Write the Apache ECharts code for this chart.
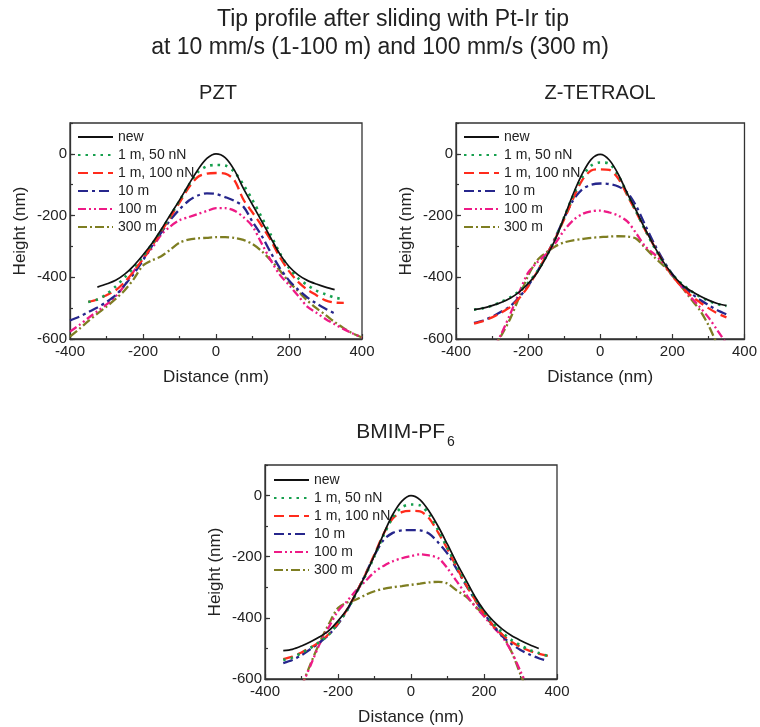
<!DOCTYPE html>
<html>
<head>
<meta charset="utf-8">
<script src="https://cdn.jsdelivr.net/npm/echarts@6/dist/echarts.min.js"></script>
<style>html,body{margin:0;padding:0;background:#fff;}#c{width:760px;height:727px;}</style>
</head>
<body>
<div id="c"></div>
<script>
var n = null;
// shared x positions (nm)
var distance = [-400,-375,-350,-325,-300,-275,-250,-225,-200,-175,-150,-125,-100,-75,-50,-25,0,25,50,75,100,125,150,175,200,225,250,275,300,325,350,375,400];
var seriesNames = ['new', '1 m, 50 nN', '1 m, 100 nN', '10 m', '100 m', '300 m'];
var xTicks = [-400, -200, 0, 200, 400];
var yTicks = [-600, -400, -200, 0];

// PZT
var pztNew  = [n,n,n,-432,-422,-410,-390,-362,-328,-290,-245,-197,-150,-100,-52,-15,0,-12,-52,-112,-165,-218,-272,-325,-365,-392,-410,-422,-432,-440,n,n,n];
var pzt50nN = [n,n,-480,-472,-455,-430,-400,-368,-332,-292,-248,-200,-152,-102,-60,-40,-36,-38,-58,-100,-150,-205,-262,-322,-370,-403,-425,-443,-455,-466,-470,n,n];
var pzt100nN= [n,n,-480,-472,-458,-442,-415,-380,-340,-298,-252,-205,-158,-110,-75,-64,-62,-64,-85,-148,-190,-233,-280,-335,-380,-415,-440,-458,-475,-482,-483,n,n];
var pzt10m  = [-540,-528,-513,-498,-480,-458,-425,-388,-345,-298,-255,-214,-180,-152,-135,-128,-130,-140,-152,-171,-220,-265,-320,-370,-410,-440,-465,-485,-502,-517,n,n,n];
var pzt100m = [-576,-555,-532,-510,-488,-462,-425,-380,-340,-305,-262,-235,-215,-205,-195,-185,-176,-176,-184,-205,-235,-290,-345,-392,-425,-460,-495,-515,-535,-552,-568,-582,-595];
var pzt300m = [-592,-568,-542,-518,-495,-470,-442,-405,-362,-345,-332,-310,-288,-278,-274,-272,-270,-270,-272,-279,-292,-315,-345,-378,-415,-445,-475,-500,-522,-545,-565,-582,-595];

// Z-TETRAOL
var zNew    = [n,n,-505,-500,-492,-482,-468,-448,-420,-385,-335,-278,-205,-130,-65,-18,-2,-20,-66,-128,-185,-245,-300,-350,-390,-422,-443,-460,-474,-485,-492,n,n];
var z50nN   = [n,n,-505,-500,-492,-480,-465,-445,-418,-382,-333,-276,-205,-135,-75,-38,-28,-32,-70,-130,-188,-248,-303,-352,-390,-420,-443,-462,-476,-487,-493,n,n];
var z100nN  = [n,n,-550,-542,-530,-515,-497,-468,-430,-382,-330,-275,-212,-145,-85,-54,-50,-52,-80,-135,-190,-248,-300,-352,-395,-430,-458,-480,-500,-517,-530,n,n];
var z10m    = [n,n,-548,-540,-528,-512,-494,-465,-428,-382,-330,-272,-208,-150,-115,-100,-96,-98,-106,-125,-170,-232,-292,-345,-390,-425,-450,-472,-490,-507,-520,n,n];
var z100m   = [n,n,n,n,-640,-585,-520,-450,-385,-352,-325,-290,-248,-215,-195,-186,-184,-190,-200,-219,-258,-300,-325,-355,-395,-430,-463,-495,-530,-572,-615,n,n];
var z300m   = [n,n,n,n,-640,-590,-535,-465,-395,-345,-320,-300,-287,-280,-276,-272,-270,-268,-267,-268,-275,-305,-335,-362,-395,-430,-468,-505,-555,-620,n,n,n];

// BMIM-PF6
var bNew    = [n,n,-507,-503,-492,-478,-462,-442,-410,-372,-318,-260,-195,-125,-62,-18,0,-14,-52,-102,-160,-220,-275,-330,-375,-410,-437,-458,-474,-488,-500,n,n];
var b50nN   = [n,n,-538,-530,-515,-498,-478,-455,-418,-375,-320,-262,-198,-130,-72,-38,-29,-32,-62,-115,-172,-230,-282,-335,-380,-418,-448,-472,-490,-505,-515,-525,n];
var b100nN  = [n,n,-535,-527,-513,-497,-478,-453,-418,-372,-318,-258,-192,-125,-75,-54,-50,-52,-75,-122,-175,-235,-290,-340,-385,-425,-455,-478,-495,-508,-517,-524,n];
var b10m    = [n,n,-548,-538,-522,-502,-480,-455,-420,-375,-318,-258,-195,-145,-122,-114,-113,-114,-125,-154,-190,-240,-292,-340,-385,-425,-460,-485,-505,-520,-532,-541,n];
var b100m   = [n,n,n,n,-625,-555,-485,-430,-378,-345,-310,-280,-250,-230,-215,-205,-198,-192,-196,-205,-238,-280,-322,-362,-395,-430,-462,-510,-575,-640,n,n,n];
var b300m   = [n,n,n,n,-625,-550,-480,-420,-368,-350,-340,-325,-313,-305,-300,-296,-292,-288,-284,-282,-288,-310,-330,-360,-392,-425,-455,-510,-585,-660,n,n,n];

var panels = [
  [pztNew, pzt50nN, pzt100nN, pzt10m, pzt100m, pzt300m],
  [zNew, z50nN, z100nN, z10m, z100m, z300m],
  [bNew, b50nN, b100nN, b10m, b100m, b300m]
];

var FONT = '"Liberation Sans", Arial, Helvetica, sans-serif';
var TXT = '#222';
var colors = ['#111111', '#17a04e', '#ff2b1c', '#26268c', '#ee1a86', '#7e7e22'];
var dashes = ['solid', [2.5, 5], [10, 5], [10, 4, 3, 4], [8, 3, 2, 3, 2, 3], [9, 3, 2, 3]];
var widths = [1.7, 2.6, 2.3, 2.3, 2.3, 2.3];

var grids = [
  {left: 70, top: 123, width: 292, height: 216},
  {left: 456, top: 123, width: 292, height: 216},
  {left: 265, top: 465, width: 292, height: 215}
];
var legendPos = [{left: 77, top: 130}, {left: 463, top: 130}, {left: 273, top: 473}];

var xAxes = [], yAxes = [], series = [], legends = [], gridOpts = [];
grids.forEach(function (g, gi) {
  gridOpts.push({left: g.left, top: g.top, width: g.width, height: g.height, show: true,
    borderColor: '#333', borderWidth: 1.3, backgroundColor: 'transparent'});
  xAxes.push({
    type: 'value', gridIndex: gi, min: xTicks[0], max: xTicks[xTicks.length - 1], interval: xTicks[1] - xTicks[0],
    axisLine: {show: true, onZero: false, lineStyle: {color: '#333', width: 1.3}},
    axisTick: {show: true, inside: true, length: 5, lineStyle: {color: '#333', width: 1.2}},
    minorTick: {show: true, splitNumber: 2, length: 3, lineStyle: {color: '#333', width: 1.2}},
    splitLine: {show: false},
    axisLabel: {fontSize: 15, fontFamily: FONT, color: TXT, margin: 5},
    name: 'Distance (nm)', nameLocation: 'middle', nameGap: 30,
    nameTextStyle: {fontSize: 17, fontFamily: FONT, color: TXT}
  });
  yAxes.push({
    type: 'value', gridIndex: gi, min: yTicks[0], max: 100, interval: yTicks[1] - yTicks[0],
    axisLine: {show: true, onZero: false, lineStyle: {color: '#333', width: 1.3}},
    axisTick: {show: true, inside: true, length: 5, lineStyle: {color: '#333', width: 1.2}},
    splitLine: {show: false},
    axisLabel: {fontSize: 15, fontFamily: FONT, color: TXT, margin: 3, showMaxLabel: false},
    name: 'Height (nm)', nameLocation: 'middle', nameGap: 41,
    nameTextStyle: {fontSize: 17, fontFamily: FONT, color: TXT}
  });
});
// minor y ticks (every 100 nm)
grids.forEach(function (g, gi) {
  yAxes.push({
    type: 'value', gridIndex: gi, position: 'left', min: yTicks[0], max: 100, interval: 100,
    axisLine: {show: false, onZero: false}, axisLabel: {show: false}, splitLine: {show: false},
    axisTick: {show: true, inside: true, length: 3, lineStyle: {color: '#333', width: 1.2}}
  });
});

panels.forEach(function (arrs, gi) {
  arrs.forEach(function (vals, si) {
    series.push({
      name: seriesNames[si], type: 'line', xAxisIndex: gi, yAxisIndex: gi,
      data: distance.map(function (x, i) { return [x, vals[i]]; }),
      symbol: 'none', smooth: 0.3, clip: true, connectNulls: false,
      lineStyle: {color: colors[si], width: widths[si], type: dashes[si]},
      itemStyle: {color: colors[si]},
      z: 2 + (6 - si)
    });
  });
  legends.push({
    left: legendPos[gi].left, top: legendPos[gi].top, orient: 'vertical', padding: 0,
    itemWidth: 35, itemHeight: 14, itemGap: 4, selectedMode: false,
    itemStyle: {opacity: 0},
    data: seriesNames,
    textStyle: {fontSize: 14, lineHeight: 14, fontFamily: FONT, color: TXT}
  });
});

function txt(x, y, s, size, align) {
  return {type: 'text', x: x, y: y, silent: true,
    style: {text: s, fontSize: size, fontFamily: FONT, fill: TXT, align: align || 'center', verticalAlign: 'middle'}};
}

var chart = echarts.init(document.getElementById('c'), null, {renderer: 'canvas'});
chart.setOption({
  animation: false,
  backgroundColor: '#fff',
  grid: gridOpts,
  xAxis: xAxes,
  yAxis: yAxes,
  legend: legends,
  series: series,
  graphic: [
    txt(393, 20, 'Tip profile after sliding with Pt-Ir tip', 23),
    txt(380, 48, 'at 10 mm/s (1-100 m) and 100 mm/s (300 m)', 23),
    txt(218, 93, 'PZT', 20),
    txt(600, 93, 'Z-TETRAOL', 20),
    txt(445, 432, 'BMIM-PF', 21, 'right'),
    txt(447, 442, '6', 14, 'left')
  ]
});
</script>
</body>
</html>
